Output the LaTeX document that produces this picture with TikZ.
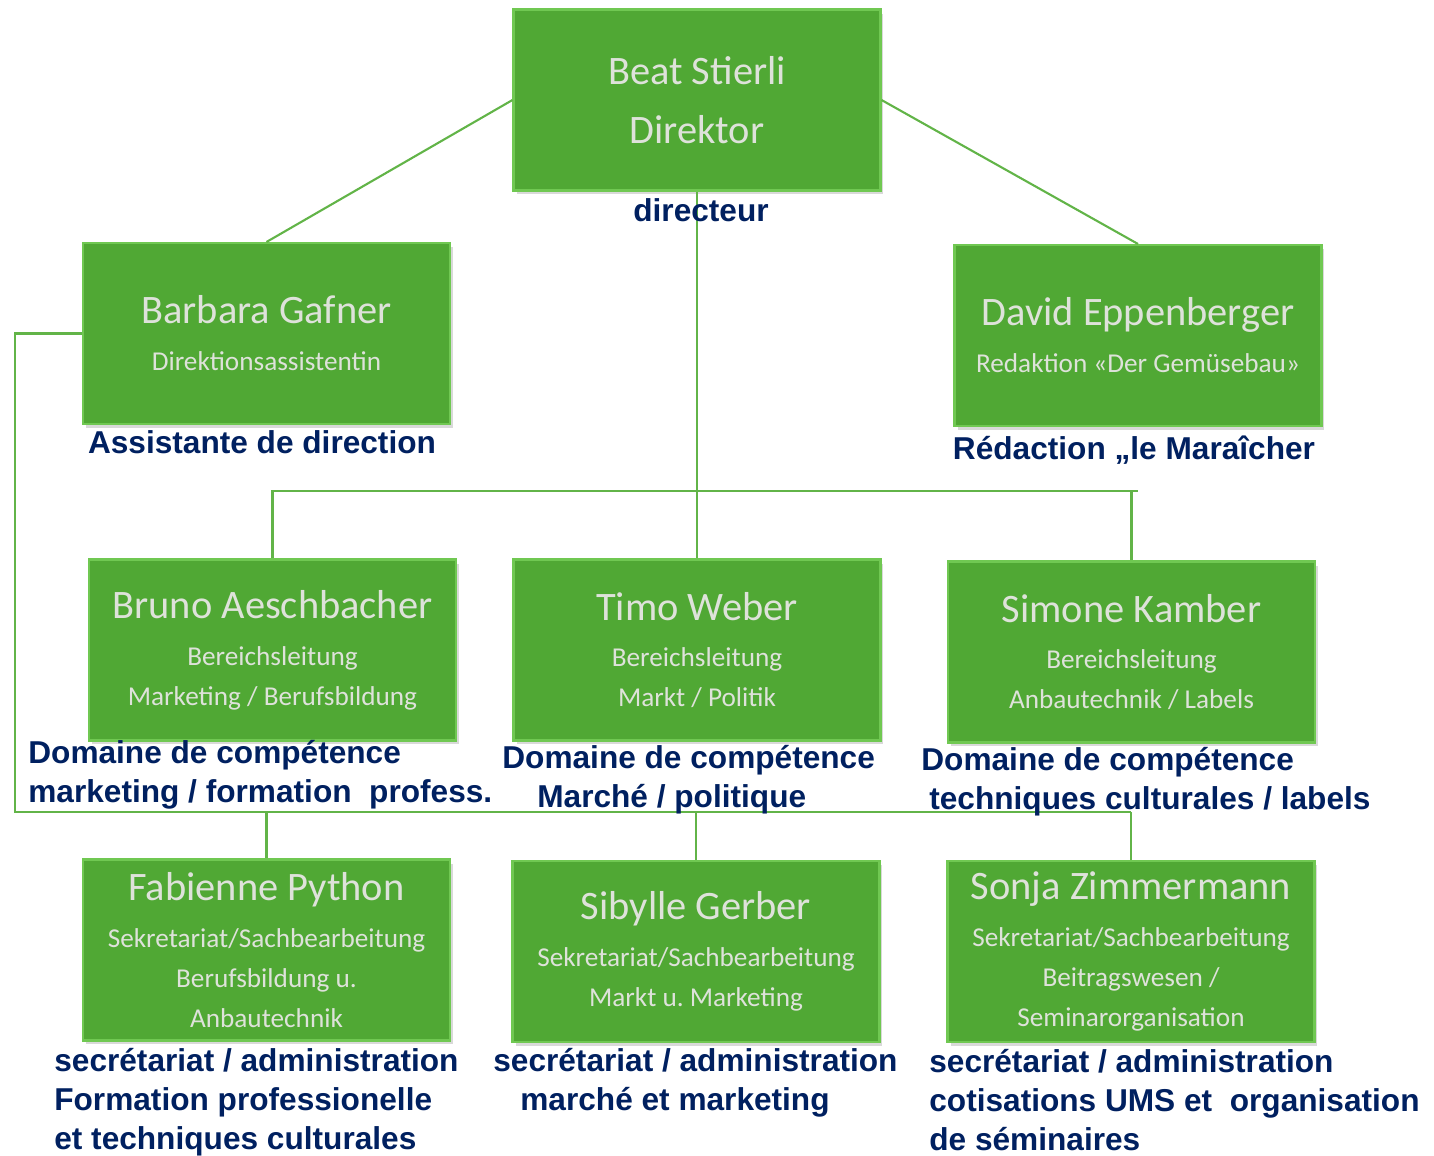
\documentclass[tikz,border=0pt]{standalone}
\usepackage{fontspec}
\setmainfont{Carlito}
\newfontfamily\arialfont{Liberation Sans}
\usetikzlibrary{shadows}
\definecolor{boxgreen}{RGB}{80,168,52}
\definecolor{boxrim}{RGB}{112,200,82}
\definecolor{boxtext}{RGB}{222,226,218}
\definecolor{linegreen}{RGB}{98,180,72}
\definecolor{navy}{RGB}{0,32,96}
\newcommand{\persname}[1]{{\fontsize{23pt}{22.7pt}\selectfont #1}}

\begin{document}
\frenchspacing
\begin{tikzpicture}[x=0.02cm, y=-0.02cm,
person/.style={rectangle, minimum width=7.34cm, minimum height=3.62cm, inner sep=0, fill=boxgreen, draw=boxrim, line width=1.2pt, text=boxtext, align=center, font=\fontsize{15.5pt}{22.7pt}\selectfont, drop shadow={shadow xshift=.06cm, shadow yshift=-.08cm, opacity=.3}},
link/.style={draw=linegreen, line width=1.2pt},
role/.style={inner sep=0, text=navy, font=\fontsize{18pt}{22pt}\arialfont\bfseries, align=left}]
\useasboundingbox (0,0) rectangle (1434,1156);
%%%%%%%%%% BOXES %%%%%%%%%%%
\node [person] (stierli) at (697,100) {\persname{Beat Stierli}\\[11pt]\persname{Direktor}};
\node [person] (gafner) at (266.5,333.5) {\persname{Barbara Gafner}\\[4pt]Direktionsassistentin};
\node [person] (eppenberger) at (1138,335.5) {\persname{David Eppenberger}\\[4pt]Redaktion «Der Gemüsebau»};
\node [person] (aeschbacher) at (272.5,650) {\persname{Bruno Aeschbacher}\\[4pt]Bereichsleitung\\Marketing / Berufsbildung};
\node [person] (weber) at (697,650) {\persname{Timo Weber}\\[4pt]Bereichsleitung\\Markt / Politik};
\node [person] (kamber) at (1131.5,652) {\persname{Simone Kamber}\\[4pt]Bereichsleitung\\Anbautechnik / Labels};
\node [person] (python) at (266.5,950) {\persname{Fabienne Python}\\[4pt]Sekretariat/Sachbearbeitung\\Berufsbildung u.\\Anbautechnik};
\node [person] (gerber) at (696,951.5) {\persname{Sibylle Gerber}\\[4pt]Sekretariat/Sachbearbeitung\\Markt u. Marketing};
\node [person] (zimmermann) at (1131,951.5) {\persname{Sonja Zimmermann}\\[4pt]Sekretariat/Sachbearbeitung\\Beitragswesen /\\Seminarorganisation};
%%%%%%%%%% LINKS %%%%%%%%%%%
\coordinate (hbar) at (0,491);
\coordinate (sbar) at (0,812);
\coordinate (lft) at (15,0);
\draw [link] (stierli.west) -- (gafner.north);
\draw [link] (stierli.east) -- (eppenberger.north);
\draw [link] (stierli.south) -- (weber.north);
\draw [link] (aeschbacher.north) -- (aeschbacher.north |- hbar) -- (eppenberger.south |- hbar);
\draw [link] (kamber.north) -- (kamber.north |- hbar);
\draw [link] (gafner.west) -| (lft |- sbar) -- (zimmermann.north |- sbar);
\draw [link] (python.north) -- (python.north |- sbar);
\draw [link] (gerber.north) -- (gerber.north |- sbar);
\draw [link] (zimmermann.north) -- (zimmermann.north |- sbar);
%%%%%%%%%% FRENCH ROLES %%%%%%%%%%%
\node [role, anchor=base] (rstierli) at (701,221) {directeur};
\node [role, anchor=base] (rgafner) at (262,453) {Assistante de direction};
\node [role, anchor=base] (reppenberger) at (1134,459) {Rédaction „le Maraîcher};
\node [role, anchor=base west] (raeschbacher) at (28,802) {Domaine de compétence\\marketing / formation~~profess.};
\node [role, anchor=base west] (rweber) at (502,807) {Domaine de compétence\\\hspace*{.7cm}Marché / politique};
\node [role, anchor=base west] (rkamber) at (921,809) {Domaine de compétence\\\hspace*{.16cm}techniques culturales / labels};
\node [role, anchor=base west] (rpython) at (54,1149) {secrétariat / administration\\Formation professionelle\\et techniques culturales};
\node [role, anchor=base west] (rgerber) at (493,1110) {secrétariat / administration\\\hspace*{.54cm}marché et marketing};
\node [role, anchor=base west] (rzimmermann) at (929,1150) {secrétariat / administration\\cotisations UMS et~~organisation\\de séminaires};
\end{tikzpicture}
\end{document}
